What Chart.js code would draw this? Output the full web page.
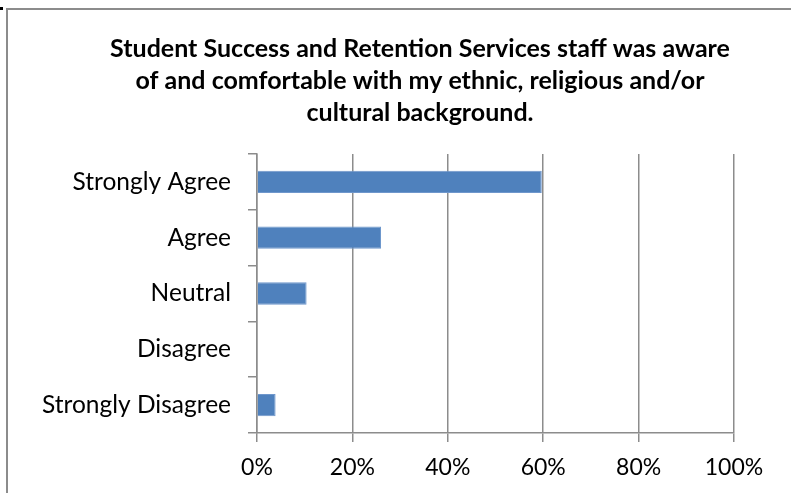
<!DOCTYPE html>
<html>
<head>
<meta charset="utf-8">
<script src="https://cdn.jsdelivr.net/npm/chart.js@4.4.1/dist/chart.umd.min.js"></script>
<style>
  html, body { margin: 0; padding: 0; background: #fff; overflow: hidden; }
  body { width: 791px; height: 493px; position: relative; }
  #wrap { position: absolute; left: 0; top: 0; width: 840px; height: 493px; }
  #frame {
    position: absolute; left: 6px; top: 8px; width: 900px; height: 600px;
    border-left: 2px solid #8c8c8c; border-top: 2px solid #8c8c8c;
    pointer-events: none;
  }
  #corner { position: absolute; left: 0; top: 7px; width: 3px; height: 3px; background: #000; }
</style>
</head>
<body>
<div id="wrap"><canvas id="surveyChart"></canvas></div>
<div id="frame"></div>
<div id="corner"></div>
<script>
// Survey responses, share of respondents (%)
const categories = ['Strongly Agree', 'Agree', 'Neutral', 'Disagree', 'Strongly Disagree'];
const shares = [59.7, 26.0, 10.4, 0, 3.9];
const xTicks = [0, 20, 40, 60, 80, 100];
const titleLines = [
  'Student Success and Retention Services staff was aware',
  'of and comfortable with my ethnic, religious and/or',
  'cultural background.'
];

const FONT = "Lato, 'Open Sans', sans-serif";
const GRID = '#8c8c8c';

// The chart title sits centred on the whole chart box, not just the plot,
// so it's drawn here instead of through the title plugin.
const titlePlugin = {
  id: 'boxTitle',
  afterDraw(chart) {
    const c = chart.ctx;
    c.save();
    c.fillStyle = '#000';
    c.font = "bold 25px " + FONT;
    c.textAlign = 'center';
    c.textBaseline = 'alphabetic';
    titleLines.forEach((line, i) => c.fillText(line, 420, 57 + i * 32));
    c.restore();
  }
};

const ctx = document.getElementById('surveyChart').getContext('2d');
new Chart(ctx, {
  type: 'bar',
  data: {
    labels: categories,
    datasets: [{
      data: shares,
      backgroundColor: '#4f81bd',
      borderColor: '#6f97cc',
      borderWidth: 1,
      barPercentage: 0.4,
      categoryPercentage: 1
    }]
  },
  plugins: [titlePlugin],
  options: {
    indexAxis: 'y',
    responsive: true,
    maintainAspectRatio: false,
    animation: false,
    layout: { padding: { top: 154, right: 106, bottom: 0, left: 0 } },
    plugins: {
      legend: { display: false },
      tooltip: { enabled: false },
      title: { display: false }
    },
    scales: {
      x: {
        min: 0,
        max: 100,
        afterBuildTicks: (scale) => { scale.ticks = xTicks.map(v => ({ value: v })); },
        afterFit: (scale) => { scale.height = 60; },
        grid: { color: GRID, lineWidth: 1.5, tickLength: 9, drawTicks: true },
        border: { color: GRID, width: 1.5 },
        ticks: {
          color: '#000',
          padding: 12,
          font: { family: FONT, size: 23 },
          callback: (v) => v + '%'
        }
      },
      y: {
        afterFit: (scale) => { scale.width = 257; },
        grid: { color: GRID, lineWidth: 1.5, drawOnChartArea: false, tickLength: 9, offset: true },
        border: { color: GRID, width: 1.5 },
        ticks: {
          color: '#000',
          padding: 17,
          font: { family: FONT, size: 24.5 }
        }
      }
    }
  }
});
</script>
</body>
</html>
